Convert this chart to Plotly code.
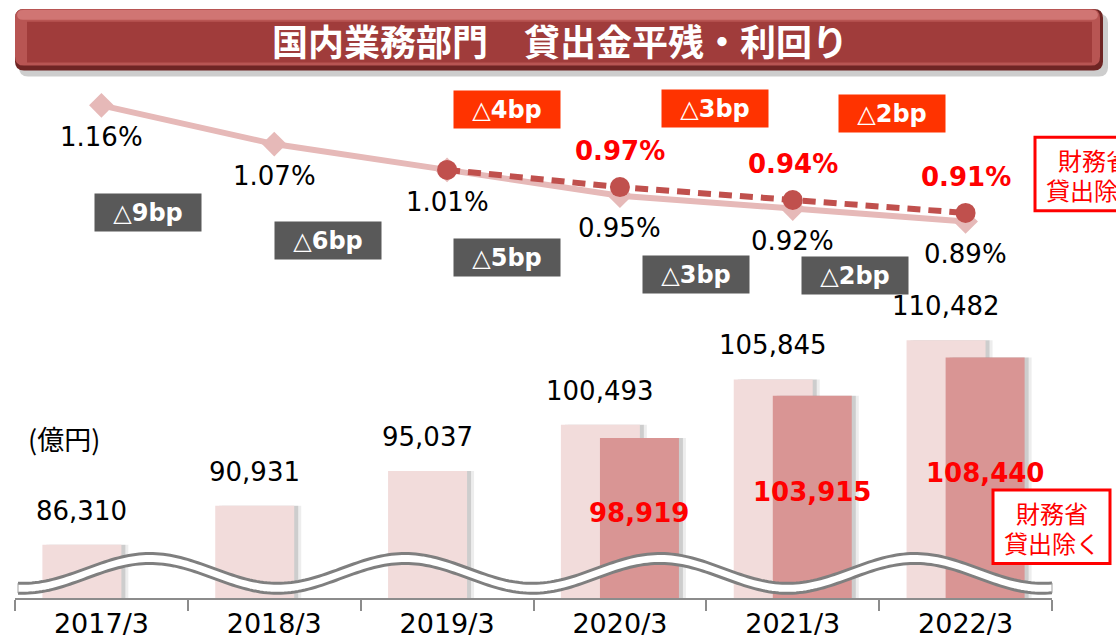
import numpy as np
import plotly.graph_objects as go

W, H = 1116, 639

# ---------------- data ----------------
categories = ["2017/3", "2018/3", "2019/3", "2020/3", "2021/3", "2022/3"]
balance_total = [86310, 90931, 95037, 100493, 105845, 110482]          # 貸出金平残 (億円)
balance_excl = [None, None, None, 98919, 103915, 108440]               # 財務省貸出除く
yield_total = [1.16, 1.07, 1.01, 0.95, 0.92, 0.89]                     # 利回り (%)
yield_excl = [None, None, 1.01, 0.97, 0.94, 0.91]                      # 財務省貸出除く
bp_total = ["△9bp", "△6bp", "△5bp", "△3bp", "△2bp"]
bp_excl = ["△4bp", "△3bp", "△2bp"]

title_text = "国内業務部門　貸出金平残・利回り"
unit_text = "(億円)"
note_lines = ["財務省", "貸出除く"]

# ---------------- layout helpers (pixels -> paper) ----------------
def px(x):
    return x / W

def py(y):
    return 1 - y / H

def rrect(x0, y0, x1, y1, r):
    a, b = px(x0), py(y0)
    c, d = px(x1), py(y1)
    rx, ry = r / W, r / H
    return (f"M {a+rx},{b} L {c-rx},{b} Q {c},{b} {c},{b-ry} "
            f"L {c},{d+ry} Q {c},{d} {c-rx},{d} L {a+rx},{d} "
            f"Q {a},{d} {a},{d+ry} L {a},{b-ry} Q {a},{b} {a+rx},{b} Z")

# bar geometry in category units
bw = 0.457
c_light = -0.113
c_dark = 0.113
sh1 = 4 / 172.8
sh2 = 7 / 172.8

LIGHT = "#F2DCDB"
DARK = "#D99594"
LINE_L = "#E6B9B8"
LINE_D = "#C0504D"
FONT = "DejaVu Sans"
JP = "Noto Sans CJK JP"

fig = go.Figure()

# shadows + bars
fig.add_bar(x=categories, y=balance_total, offset=c_light - bw / 2 + sh2, width=bw,
            marker=dict(color="rgba(80,80,80,0.10)", line=dict(width=0)), hoverinfo="skip")
fig.add_bar(x=categories, y=balance_total, offset=c_light - bw / 2 + sh1, width=bw,
            marker=dict(color="rgba(80,80,80,0.20)", line=dict(width=0)), hoverinfo="skip")
fig.add_bar(x=categories, y=balance_total, offset=c_light - bw / 2, width=bw,
            marker=dict(color=LIGHT, line=dict(width=0)))
fig.add_bar(x=categories, y=balance_excl, offset=c_dark - bw / 2 + sh2, width=bw,
            marker=dict(color="rgba(80,80,80,0.10)", line=dict(width=0)), hoverinfo="skip")
fig.add_bar(x=categories, y=balance_excl, offset=c_dark - bw / 2 + sh1, width=bw,
            marker=dict(color="rgba(80,80,80,0.20)", line=dict(width=0)), hoverinfo="skip")
fig.add_bar(x=categories, y=balance_excl, offset=c_dark - bw / 2, width=bw,
            marker=dict(color=DARK, line=dict(width=0)))

# yield lines
fig.add_scatter(x=categories, y=yield_total, yaxis="y2", mode="lines+markers",
                line=dict(color=LINE_L, width=6),
                marker=dict(symbol="diamond", size=19, color=LINE_L), cliponaxis=False)
fig.add_scatter(x=categories, y=yield_excl, yaxis="y2", mode="lines+markers",
                line=dict(color=LINE_D, width=6, dash="13px,8px"),
                marker=dict(symbol="circle", size=20, color=LINE_D), cliponaxis=False)

ann = []
# yield labels
for i, v in enumerate(yield_total):
    ann.append(dict(x=i, y=v, xref="x", yref="y2", text=f"{v:.2f}%", showarrow=False,
                    xanchor="center", yanchor="middle",
                    yshift=-32, font=dict(family=FONT, size=26, color="#000000")))
for i, v in enumerate(yield_excl):
    if v is None or v == yield_total[i]:
        continue
    ann.append(dict(x=i, y=v, xref="x", yref="y2", text=f"<b>{v:.2f}%</b>", showarrow=False,
                    xanchor="center", yanchor="middle",
                    yshift=36, font=dict(family=FONT, size=26, color="#FF0000")))

# bar labels
for i, v in enumerate(balance_total):
    ann.append(dict(x=i + c_light, y=v, xref="x", yref="y", text=f"{v:,}", showarrow=False,
                    xanchor="center", yanchor="middle",
                    yshift=34, font=dict(family=FONT, size=26, color="#000000")))
for i, v in enumerate(balance_excl):
    if v is None:
        continue
    ann.append(dict(x=i + c_dark, y=(v + 80000) / 2, xref="x", yref="y", text=f"<b>{v:,}</b>",
                    xanchor="center", yanchor="middle",
                    showarrow=False, yshift=5, font=dict(family=FONT, size=26, color="#FF0000")))

# bp change boxes
bp_total_pos = [(0.269, 214), (1.311, 242), (2.344, 259), (3.440, 276), (4.360, 277)]
bp_excl_pos = [(2.344, 110), (3.550, 109), (4.574, 114)]
for t, (xx, yy) in zip(bp_total, bp_total_pos):
    ann.append(dict(x=xx, y=py(yy), xref="x", yref="paper", text=f"<b>{t}</b>", showarrow=False,
                    xanchor="center", yanchor="middle",
                    bgcolor="#595959", width=106, height=37, borderpad=0,
                    font=dict(family=FONT, size=24, color="#FFFFFF")))
for t, (xx, yy) in zip(bp_excl, bp_excl_pos):
    ann.append(dict(x=xx, y=py(yy), xref="x", yref="paper", text=f"<b>{t}</b>", showarrow=False,
                    xanchor="center", yanchor="middle",
                    bgcolor="#FF3300", width=106, height=37, borderpad=0,
                    font=dict(family=FONT, size=24, color="#FFFFFF")))

shapes = []

# note boxes (red frame + two text lines)
for x0, y0 in [(1035, 138), (993, 493)]:
    shapes.append(dict(type="rect", x0=px(x0), x1=px(x0 + 117), y0=py(y0), y1=py(y0 + 74),
                       xref="paper", yref="paper", fillcolor="#FFFFFF",
                       line=dict(color="#FF0000", width=3), layer="above"))
    for k, t in enumerate(note_lines):
        ann.append(dict(x=px(x0 + 58.5), y=py(y0 + 23 + 30 * k), xref="paper", yref="paper",
                        text=t, showarrow=False, xanchor="center", yanchor="middle",
                        font=dict(family=JP, size=24, color="#FF0000")))

# unit label
ann.append(dict(x=px(64), y=py(441), xref="paper", yref="paper", text=unit_text, showarrow=False,
                xanchor="center", yanchor="middle",
                font=dict(family=JP, size=27, color="#000000")))

# title
ann.append(dict(x=px(560), y=py(40), xref="paper", yref="paper", text=f"<b>{title_text}</b>",
                xanchor="center", yanchor="middle",
                showarrow=False, font=dict(family=JP, size=36, color="#FFFFFF")))

# ---------------- banner shapes ----------------
shapes.append(dict(type="path", path=rrect(19, 14, 1108, 77, 9), xref="paper", yref="paper",
                   fillcolor="rgba(90,90,90,0.30)", line=dict(width=0), layer="above"))
shapes.append(dict(type="path", path=rrect(15, 9, 1103, 71, 9), xref="paper", yref="paper",
                   fillcolor="#6F2524", line=dict(width=0), layer="above"))
shapes.append(dict(type="path", path=rrect(15, 9, 1100, 66, 9), xref="paper", yref="paper",
                   fillcolor="#B85553", line=dict(width=0), layer="above"))
shapes.append(dict(type="path", path=rrect(17, 10, 1098, 20, 6), xref="paper", yref="paper",
                   fillcolor="#D07573", line=dict(width=0), layer="above"))
shapes.append(dict(type="rect", x0=px(27), x1=px(1092), y0=py(22), y1=py(63), xref="paper",
                   yref="paper", fillcolor="#A03C3B", line=dict(width=0), layer="above"))

# axis-break wave (decoration)
wx = np.linspace(18, 1052, 300)
wu = 572 - 15 * np.cos(2 * np.pi * (wx - 150) / 255)
wl = wu + 10
band = "M " + " L ".join(f"{px(a)},{py(b)}" for a, b in zip(wx, wu))
band += " L " + " L ".join(f"{px(a)},{py(b)}" for a, b in zip(wx[::-1], wl[::-1])) + " Z"
shapes.append(dict(type="path", path=band, xref="paper", yref="paper",
                   fillcolor="#FFFFFF", line=dict(width=0), layer="above"))
for arr in (wu, wl):
    p = "M " + " L ".join(f"{px(a)},{py(b)}" for a, b in zip(wx, arr))
    shapes.append(dict(type="path", path=p, xref="paper", yref="paper",
                       line=dict(color="#7F7F7F", width=3), layer="above"))
for i in (0, -1):
    shapes.append(dict(type="line", x0=px(wx[i]), x1=px(wx[i]), y0=py(wu[i]), y1=py(wl[i]),
                       xref="paper", yref="paper", line=dict(color="#9F9F9F", width=1),
                       layer="above"))

fig.update_layout(
    width=W, height=H,
    margin=dict(l=0, r=0, t=0, b=0),
    paper_bgcolor="#FFFFFF", plot_bgcolor="rgba(0,0,0,0)",
    barmode="overlay", showlegend=False,
    xaxis=dict(type="category", categoryorder="array", categoryarray=categories,
               range=[-0.5, 5.5], domain=[px(15), px(1052)],
               tickson="boundaries", ticks="outside", ticklen=11, tickwidth=2,
               tickcolor="#8C8C8C", showline=True, linecolor="#8C8C8C", linewidth=2,
               showgrid=False, zeroline=False,
               tickfont=dict(family=FONT, size=27, color="#000000")),
    yaxis=dict(domain=[37 / H, 1], range=[80000, 80000 + 602 / 8.52 * 1000],
               visible=False, showgrid=False, zeroline=False),
    yaxis2=dict(overlaying="y", range=[0.0145, 1.4048], visible=False,
                showgrid=False, zeroline=False),
    annotations=ann, shapes=shapes,
)

fig.write_html("out.html", config={"displayModeBar": False},
               post_script="document.body.style.margin='0';document.body.style.overflow='hidden';")
